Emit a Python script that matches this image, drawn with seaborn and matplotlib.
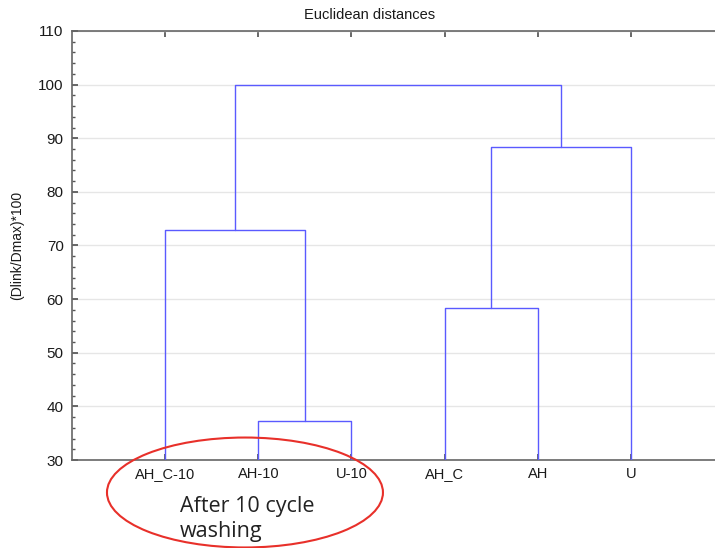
import matplotlib
matplotlib.use("Agg")
import matplotlib.pyplot as plt
import seaborn as sns
import numpy as np
from matplotlib.patches import Ellipse
from matplotlib.ticker import MultipleLocator

# ---- data ----
leaves = ["AH_C-10", "AH-10", "U-10", "AH_C", "AH", "U"]
link_a = [1, 3, 0, 7, 8]          # scipy-like linkage: children indices (leaves 0..5, clusters 6..)
link_b = [2, 4, 6, 5, 9]
link_h = [37.2, 58.3, 72.8, 88.3, 100.0]
yticks = [30, 40, 50, 60, 70, 80, 90, 100, 110]

sns.set_theme(style="white")
plt.rcParams["font.family"] = ["Liberation Sans", "DejaVu Sans"]

fig = plt.figure(figsize=(7.15, 5.48), dpi=100)
ax = fig.add_axes([72 / 715, 88 / 548, 652 / 715, 429 / 548])

blue = "#5a5aff"
n = len(leaves)
xpos = {i: float(i) for i in range(n)}
ypos = {i: 0.0 for i in range(n)}
for k, (a, b, h) in enumerate(zip(link_a, link_b, link_h)):
    ax.plot([xpos[a], xpos[a], xpos[b], xpos[b]],
            [ypos[a], h, h, ypos[b]], color=blue, lw=1.0, zorder=3)
    xpos[n + k] = (xpos[a] + xpos[b]) / 2
    ypos[n + k] = h

ax.set_xlim(-1, 6)
ax.set_ylim(30, 110)
ax.set_xticks(range(n))
ax.set_xticklabels(leaves, fontsize=10.5, color="#1a1a1a")
ax.set_yticks(yticks)
ax.set_yticklabels([str(v) for v in yticks], fontsize=11, color="#1a1a1a")
ax.yaxis.set_minor_locator(MultipleLocator(2))
ax.tick_params(axis="both", which="both", direction="in", top=True, bottom=True,
               left=True, right=False, colors="#555555", labelcolor="#1a1a1a")
ax.tick_params(axis="x", which="major", length=4, pad=5)
ax.tick_params(axis="y", which="major", length=4, pad=6)
ax.tick_params(axis="y", which="minor", length=2)
ax.grid(axis="y", which="major", color="#e6e6e6", lw=1.0, zorder=0)
for s in ["left", "top", "bottom"]:
    ax.spines[s].set_color("#666666")
    ax.spines[s].set_linewidth(1.2)
ax.spines["right"].set_visible(False)

fig.text(370 / 715, 1 - 15 / 548, "Euclidean distances", fontsize=10.5,
         color="#1a1a1a", ha="center", va="center")
ax.set_ylabel("(Dlink/Dmax)*100", fontsize=10, color="#1a1a1a", labelpad=10)

# red ellipse annotation
ell = Ellipse((0.857, 23.94), width=2.963, height=20.5, fill=False,
              edgecolor="#e8302a", lw=1.5, clip_on=False, zorder=5)
ax.add_patch(ell)
fig.text(180 / 715, 1 - 512 / 548, "After 10 cycle", fontsize=15.5,
         family=["Open Sans", "DejaVu Sans"], color="#222222", ha="left", va="baseline")
fig.text(180 / 715, 1 - 537 / 548, "washing", fontsize=15.5,
         family=["Open Sans", "DejaVu Sans"], color="#222222", ha="left", va="baseline")

fig.savefig("out.png", dpi=100)
